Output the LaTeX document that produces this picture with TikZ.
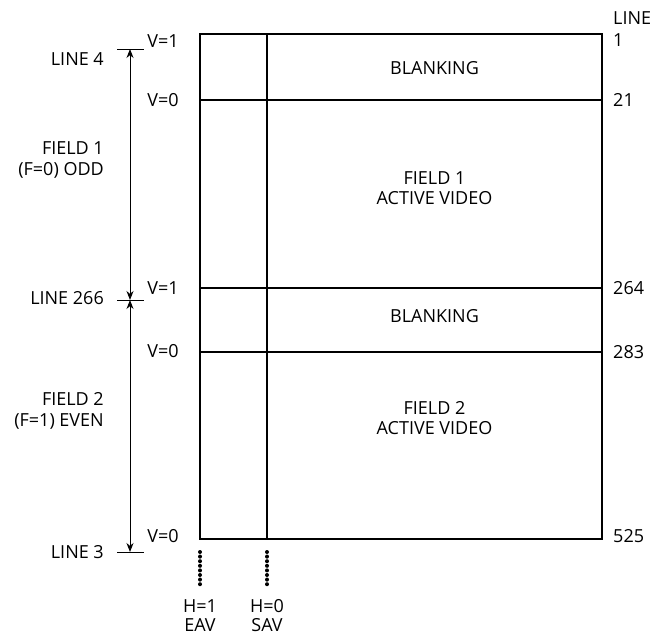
\documentclass[tikz,border=0pt]{standalone}
\usepackage{fontspec}
\setmainfont{Open Sans}
\usetikzlibrary{arrows.meta}
\begin{document}
\begin{tikzpicture}[x=1pt,y=-1pt,
  lbl/.style={font=\fontsize{18}{20.5}\selectfont, inner sep=0pt, align=center},
  frame/.style={line width=2.3pt},
  thin/.style={line width=1pt},
  dim/.style={line width=1pt},
  dotline/.style={line width=4pt, line cap=round, dash pattern=on 0pt off 4.6pt}]
\useasboundingbox (0,0) rectangle (655,637);
% frame corners
\coordinate (tl) at (200,34);
\coordinate (tr) at (602,34);
\coordinate (bl) at (200,539);
\coordinate (br) at (602,539);
\coordinate (st) at (267,34);
\coordinate (sb) at (267,539);
\draw[frame] (tl) -- (tr) -- (br) -- (bl) -- cycle;
\draw[frame] (st) -- (sb);
% horizontal lines
\coordinate (l21a) at (200,100); \coordinate (l21b) at (602,100);
\coordinate (l264a) at (200,288); \coordinate (l264b) at (602,288);
\coordinate (l283a) at (200,352); \coordinate (l283b) at (602,352);
\draw[frame] (l21a) -- (l21b);
\draw[frame] (l264a) -- (l264b);
\draw[frame] (l283a) -- (l283b);
% center texts
\node[lbl] (blank1) at (434.5,68) {BLANKING};
\node[lbl] (act1) at (434.5,188) {FIELD 1\\ACTIVE VIDEO};
\node[lbl] (blank2) at (434.5,316) {BLANKING};
\node[lbl] (act2) at (434.5,418) {FIELD 2\\ACTIVE VIDEO};
% V labels
\node[lbl] (v1a) at (163,41) {V=1};
\node[lbl] (v0a) at (163,100) {V=0};
\node[lbl] (v1b) at (163,288) {V=1};
\node[lbl] (v0b) at (163,351) {V=0};
\node[lbl] (v0c) at (163,536) {V=0};
% right line numbers
\node[lbl, anchor=west] (rline) at (613,18) {LINE};
\node[lbl, anchor=west] (r1) at (613,40) {1};
\node[lbl, anchor=west] (r21) at (613,100) {21};
\node[lbl, anchor=west] (r264) at (613,288) {264};
\node[lbl, anchor=west] (r283) at (613,352) {283};
\node[lbl, anchor=west] (r525) at (613,536) {525};
% left ticks and arrows
\coordinate (t4a) at (117,49); \coordinate (t4b) at (144,49);
\coordinate (t266a) at (117,300); \coordinate (t266b) at (144,300);
\coordinate (t3a) at (117,552); \coordinate (t3b) at (144,552);
\coordinate (a4) at (130,49);
\coordinate (a266) at (130,300);
\coordinate (a3) at (130,552);
\draw[thin] (t4a) -- (t4b);
\draw[thin] (t266a) -- (t266b);
\draw[thin] (t3a) -- (t3b);
\draw[dim, {Stealth[length=9pt,width=7pt]}-{Stealth[length=9pt,width=7pt]}] (a4) -- (a266);
\draw[dim, {Stealth[length=9pt,width=7pt]}-{Stealth[length=9pt,width=7pt]}] (a266) -- (a3);
% left labels
\node[lbl, anchor=east] (line4) at (104,59) {LINE 4};
\node[lbl, anchor=east] (line266) at (104,298) {LINE 266};
\node[lbl, anchor=east] (line3) at (104,552) {LINE 3};
\node[lbl, anchor=east, align=right] (f1) at (104,160) {FIELD 1\\(F=0) ODD};
\node[lbl, anchor=east, align=right] (f2) at (104,411) {FIELD 2\\(F=1) EVEN};
% dotted markers
\coordinate (d1a) at (200,552); \coordinate (d1b) at (200,587);
\coordinate (d2a) at (267,552); \coordinate (d2b) at (267,587);
\draw[dotline] (d1a) -- (d1b);
\draw[dotline] (d2a) -- (d2b);
\node[lbl, font=\fontsize{18}{19}\selectfont] (eav) at (200,615.5) {H=1\\EAV};
\node[lbl, font=\fontsize{18}{19}\selectfont] (sav) at (267,615.5) {H=0\\SAV};
\end{tikzpicture}
\end{document}
